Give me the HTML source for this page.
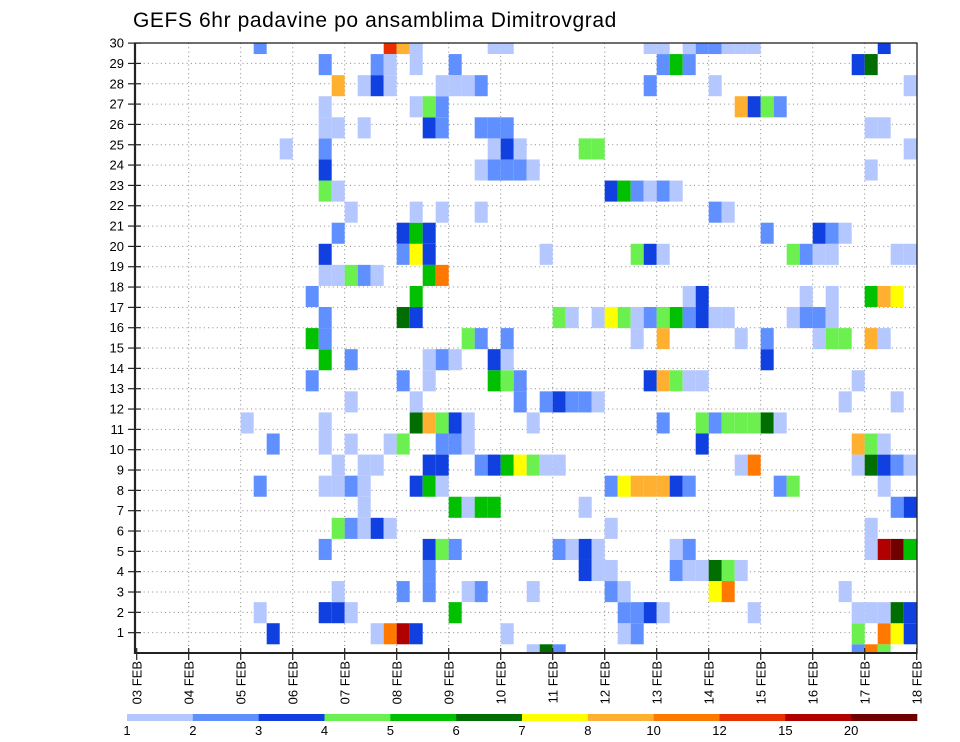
<!DOCTYPE html>
<html><head><meta charset="utf-8"><style>
html,body{margin:0;padding:0;background:#fff;}
svg{display:block;font-family:"Liberation Sans",sans-serif;}
</style></head><body>
<svg id="chart" width="960" height="742" viewBox="0 0 960 742" xmlns="http://www.w3.org/2000/svg">
<defs><clipPath id="plotclip"><rect x="135" y="43" width="782" height="610"/></clipPath></defs>
<text x="133" y="27" font-size="21" letter-spacing="0.6" fill="#000">GEFS 6hr padavine po ansamblima Dimitrovgrad</text>
<g id="grid"></g>
<g id="cells" clip-path="url(#plotclip)"></g>
<g id="axes"></g>
<g id="legend"></g>
</svg>
<script>
const dayLabels = ["03 FEB","04 FEB","05 FEB","06 FEB","07 FEB","08 FEB","09 FEB","10 FEB","11 FEB","12 FEB","13 FEB","14 FEB","15 FEB","16 FEB","17 FEB","18 FEB"];
const memberTicks = [1,2,3,4,5,6,7,8,9,10,11,12,13,14,15,16,17,18,19,20,21,22,23,24,25,26,27,28,29,30];
const legendLabels = ["1","2","3","4","5","6","7","8","10","12","15","20"];
const levelColors = ["#b4c8ff","#6090ff","#1040e0","#6cf050","#00c000","#006e00","#ffff00","#ffb030","#ff7800","#e83000","#b00000","#700000"];
// cellRows[j] = [[step, level], ...]  (level 1..12)
const cellRows = [
 [[30,1],[31,6],[32,2],[55,2],[56,9],[57,4]],
 [[10,3],[18,1],[19,9],[20,11],[21,3],[28,1],[37,1],[38,2],[55,4],[57,9],[58,7],[59,3]],
 [[9,1],[14,3],[15,3],[16,1],[24,5],[37,2],[38,2],[39,3],[40,1],[47,1],[55,1],[56,1],[57,1],[58,6],[59,3]],
 [[15,1],[20,2],[22,2],[25,1],[26,2],[30,1],[36,2],[37,1],[44,7],[45,9],[54,1]],
 [[22,2],[34,3],[35,1],[36,1],[41,2],[42,1],[43,1],[44,6],[45,4],[46,1]],
 [[14,2],[22,3],[23,4],[24,2],[32,2],[33,1],[34,3],[35,1],[41,1],[42,2],[56,1],[57,11],[58,12],[59,5]],
 [[15,4],[16,2],[17,1],[18,3],[19,1],[36,1],[56,1]],
 [[17,1],[24,5],[25,1],[26,5],[27,5],[34,1],[58,2],[59,3]],
 [[9,2],[14,1],[15,1],[16,2],[17,1],[21,3],[22,5],[23,1],[36,2],[37,7],[38,8],[39,8],[40,8],[41,3],[42,2],[49,2],[50,4],[57,1]],
 [[15,1],[17,1],[18,1],[22,3],[23,3],[26,2],[27,3],[28,5],[29,7],[30,4],[31,1],[32,1],[46,1],[47,9],[55,1],[56,6],[57,3],[58,2],[59,1]],
 [[10,2],[14,1],[16,1],[19,1],[20,4],[23,2],[24,2],[25,1],[43,3],[55,8],[56,4],[57,1]],
 [[8,1],[14,1],[21,6],[22,8],[23,4],[24,3],[25,1],[30,1],[40,2],[43,4],[44,2],[45,4],[46,4],[47,4],[48,6],[49,1]],
 [[16,1],[21,1],[29,2],[31,2],[32,3],[33,2],[34,2],[35,1],[54,1],[58,1]],
 [[13,2],[20,2],[22,1],[27,5],[28,4],[29,2],[39,3],[40,8],[41,4],[42,1],[43,1],[55,1]],
 [[14,5],[16,2],[22,1],[23,2],[24,1],[27,3],[28,1],[48,3]],
 [[13,5],[14,2],[25,4],[26,2],[28,2],[38,1],[40,8],[46,1],[48,2],[52,1],[53,4],[54,4],[56,8],[57,1]],
 [[14,2],[20,6],[21,3],[32,4],[33,1],[35,1],[36,7],[37,4],[38,1],[39,2],[40,4],[41,5],[42,2],[43,3],[44,1],[45,1],[50,1],[51,2],[52,2],[53,1]],
 [[13,2],[21,5],[42,1],[43,3],[51,1],[53,1],[56,5],[57,8],[58,7]],
 [[14,1],[15,1],[16,4],[17,2],[18,1],[22,5],[23,9]],
 [[14,3],[20,2],[21,7],[22,3],[31,1],[38,4],[39,3],[40,1],[50,4],[51,2],[52,1],[53,1],[58,1],[59,1]],
 [[15,2],[20,3],[21,5],[22,3],[48,2],[52,3],[53,2],[54,1]],
 [[16,1],[21,1],[23,1],[26,1],[44,2],[45,1]],
 [[14,4],[15,1],[36,3],[37,5],[38,2],[39,1],[40,2],[41,1]],
 [[14,3],[26,1],[27,2],[28,2],[29,2],[30,1],[56,1]],
 [[11,1],[14,2],[27,1],[28,3],[29,1],[34,4],[35,4],[59,1]],
 [[14,1],[15,1],[17,1],[22,3],[23,2],[26,2],[27,2],[28,2],[56,1],[57,1]],
 [[14,1],[21,1],[22,4],[23,2],[46,8],[47,3],[48,4],[49,2]],
 [[15,8],[17,1],[18,3],[19,1],[23,1],[24,1],[25,1],[26,2],[39,2],[44,1],[59,1]],
 [[14,2],[18,2],[19,1],[21,1],[24,2],[40,2],[41,5],[42,2],[55,3],[56,6]],
 [[9,2],[19,10],[20,8],[21,1],[27,1],[28,1],[39,1],[40,1],[42,1],[43,2],[44,2],[45,1],[46,1],[47,1],[57,3]]
];
const NS="http://www.w3.org/2000/svg";
const PL=135, PR=917, PT=43, PB=653;
function xStep(k){return 136.7+13.0*k;}
function xDay(d){return 136.7+52.0*d;}
function yTick(v){return PB-20.33*v;}
function yCellTop(j){return 644.3-21.08*(j);}
const cellH=21.08, cellW=13.0;
function mk(tag,attrs,parent){const e=document.createElementNS(NS,tag);for(const a in attrs)e.setAttribute(a,attrs[a]);parent.appendChild(e);return e;}
const grid=document.getElementById('grid'), cells=document.getElementById('cells'), axes=document.getElementById('axes'), legend=document.getElementById('legend');
// grid lines
memberTicks.forEach(v=>{
 const l=mk('line',{x1:PL,x2:PR,y1:yTick(v),y2:yTick(v),stroke:'#888','stroke-width':1,'stroke-dasharray':'1,3.3'},grid);
 
 
});
dayLabels.forEach((d,i)=>{
 if(i===0||i===dayLabels.length-1)return;
 const l=mk('line',{x1:xDay(i),x2:xDay(i),y1:PT,y2:PB,stroke:'#888','stroke-width':1,'stroke-dasharray':'1,3.3'},grid);
 
 
});
// cells
cellRows.forEach((row,j)=>{
 row.forEach(([k,lvl])=>{
  const r=mk('rect',{x:xStep(k),y:yCellTop(j),width:cellW,height:cellH,fill:levelColors[lvl-1]},cells);
  
  
 });
});
// frame
const fr=mk('rect',{x:PL,y:PT,width:PR-PL,height:PB-PT,fill:'none',stroke:'#222','stroke-width':1.3},axes);


const la=mk('line',{x1:PL,x2:PL,y1:PT,y2:PB+1,stroke:'#222','stroke-width':2.2},axes);


const ba=mk('line',{x1:PL,x2:PR,y1:PB,y2:PB,stroke:'#222','stroke-width':2},axes);


memberTics=memberTicks;
memberTicks.forEach(v=>{
 const t=mk('line',{x1:PL-7,x2:PL+6,y1:yTick(v),y2:yTick(v),stroke:'#222','stroke-width':1.2},axes);
 
 
 const tx=mk('text',{x:PL-11,y:yTick(v)+4.5,'text-anchor':'end','font-size':13,fill:'#000'},axes);
 
 
 tx.textContent=v;
});
dayLabels.forEach((d,i)=>{
 const x=Math.min(xDay(i),PR);
 const t=mk('line',{x1:x,x2:x,y1:PB-5,y2:PB+7,stroke:'#222','stroke-width':1.2},axes);
 
 
 const tx=mk('text',{x:0,y:0,'text-anchor':'end','font-size':13,fill:'#000',transform:`translate(${x+5},${PB+8}) rotate(-90)`},axes);
 
 
 tx.textContent=d;
});
// legend
const LX0=127, LX1=917, LY=714, LH=7;
const segW=(LX1-LX0)/levelColors.length;
levelColors.forEach((c,i)=>{
 const r=mk('rect',{x:LX0+segW*i,y:LY,width:segW+0.3,height:LH,fill:c},legend);
 
 
});
legendLabels.forEach((s,i)=>{
 const t=mk('text',{x:LX0+segW*i,y:735,'text-anchor':'middle','font-size':13,fill:'#000'},legend);
 
 
 t.textContent=s;
});
</script>
</body></html>
